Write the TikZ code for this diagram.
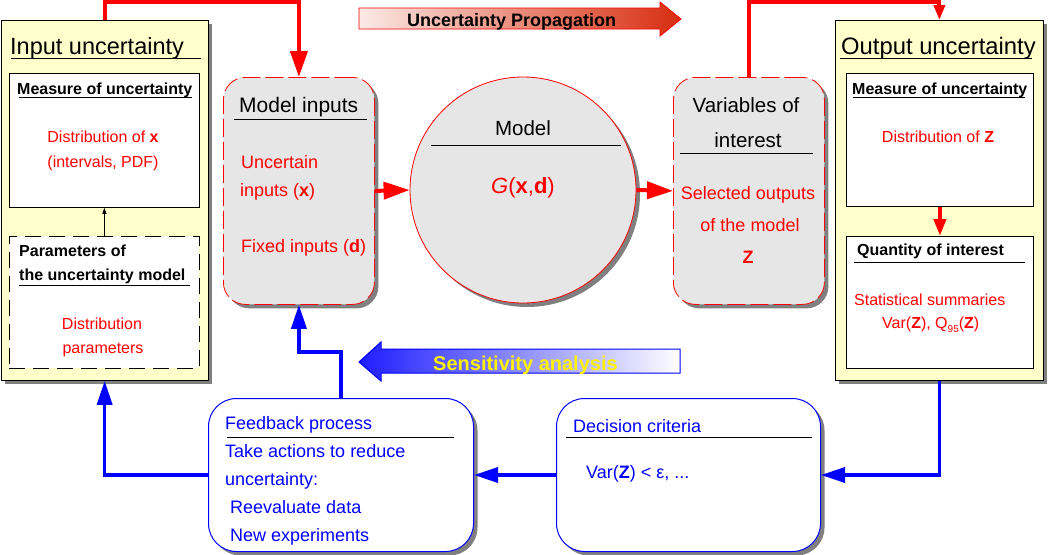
\documentclass[tikz,border=0pt]{standalone}
\usepackage{fontspec}
\setmainfont{Liberation Sans}
\usetikzlibrary{arrows.meta,shadows,calc}
\definecolor{panelyel}{HTML}{FFFFCC}
\definecolor{boxgray}{HTML}{E6E6E6}
\definecolor{shadowgray}{HTML}{808080}
\definecolor{propred}{HTML}{D72D0F}
\definecolor{propleft}{HTML}{FCEAE6}
\definecolor{sensblue}{HTML}{1E1EFF}
\newcommand{\fsz}[1]{\fontsize{#1}{#1}\selectfont}
\begin{document}
\begin{tikzpicture}[x=1pt,y=-1pt,
  shad/.style={drop shadow={shadow xshift=4pt,shadow yshift=-4pt,fill=shadowgray,opacity=1}},
  panel/.style={draw=black,fill=panelyel,line width=0.8pt,anchor=north west,inner sep=0,shad},
  innerbox/.style={draw=black,fill=white,line width=0.8pt,anchor=north west,inner sep=0},
  dashbox/.style={innerbox,dash pattern=on 16pt off 8pt},
  graybox/.style={draw=red,fill=boxgray,rounded corners=22pt,dash pattern=on 18pt off 5pt,line width=0.8pt,anchor=north west,inner sep=0,shad},
  circ/.style={circle,draw=red,fill=boxgray,line width=0.8pt,minimum size=226pt,inner sep=0,shad},
  roundblue/.style={draw=blue,fill=white,rounded corners=28pt,line width=1pt,anchor=north west,inner sep=0,shad},
  txt/.style={inner sep=0,anchor=base west},
  ctr/.style={inner sep=0,anchor=base},
  uline/.style={draw=black,line width=0.8pt},
  redarr/.style={draw=red,line width=4pt,-{Triangle[length=26pt,width=17pt]}},
  redsmall/.style={draw=red,line width=4pt,-{Triangle[length=15pt,width=11pt]}},
  redmid/.style={draw=red,line width=4pt,-{Triangle[length=17pt,width=12pt]}},
  bluearr/.style={draw=blue,line width=3.5pt,-{Triangle[length=24pt,width=15pt]}},
  blackarr/.style={draw=black,line width=0.8pt,-{Triangle[length=6pt,width=4pt]}}
]
\useasboundingbox (0,0) rectangle (1048,554);
\fill[white] (0,0) rectangle (1048,554);

% boxes
\node[panel,minimum width=207.5,minimum height=360] (inpanel) at (0.5,20) {};
\node[innerbox,minimum width=190,minimum height=134] (im) at (9,73) {};
\node[dashbox,minimum width=190,minimum height=132] (ip) at (9,236) {};
\node[graybox,minimum width=151,minimum height=227] (minp) at (223,77) {};
\node[circ] (model) at (523,190) {};
\node[graybox,minimum width=151,minimum height=227] (voi) at (673,77) {};
\node[panel,minimum width=208,minimum height=360] (outpanel) at (835,20) {};
\node[innerbox,minimum width=187,minimum height=133] (om) at (846,73) {};
\node[innerbox,minimum width=187,minimum height=132] (oq) at (846,236) {};
\node[roundblue,minimum width=265,minimum height=153] (fb) at (208,398) {};
\node[roundblue,minimum width=264,minimum height=153] (dec) at (556,398) {};

% big arrows
\shade[left color=propleft,right color=propred,draw=red,line width=0.8pt]
  (359,8) -- (660,8) -- (660,2) -- (681,19) -- (660,36) -- (660,29) -- (359,29) -- cycle;
\node[txt,font=\bfseries\fsz{18}] (tprop) at (407,26) {Uncertainty Propagation};
\shade[left color=sensblue,right color=white,draw=blue,line width=1pt]
  (359,362) -- (381,342) -- (381,349) -- (680,349) -- (680,373) -- (381,373) -- (381,381) -- cycle;
\node[txt,font=\bfseries\fsz{20},text=yellow] (tsens) at (433,370) {Sensitivity analysis};

% connectors
\coordinate (top) at (0,2);
\coordinate (sens) at (0,352);
\draw[redarr] (inpanel.north) -- (inpanel.north |- top) -| (minp.north);
\draw[redarr] (minp.east) -- (model.west);
\draw[redarr] (model.east) -- (voi.west);
\draw[redsmall] (voi.north) -- (voi.north |- top) -| (outpanel.north);
\draw[redmid] (om.south) -- (oq.north);
\draw[blackarr] (ip.north) -- (im.south);
\draw[bluearr] (outpanel.south) |- (dec.east);
\draw[bluearr] (dec.west) -- (fb.east);
\draw[bluearr] (fb.west) -| (inpanel.south);
\draw[bluearr] (fb.north) -- (fb.north |- sens) -| (minp.south);

% input panel texts
\node[txt,font=\fsz{23.5}] (tin) at (10,54) {Input uncertainty};
\draw[uline] (11,58) -- (201,58);
\node[txt,font=\bfseries\fsz{16}] (tim) at (17,94) {Measure of uncertainty};
\draw[uline] (19,97) -- (192,97);
\node[ctr,red,font=\fsz{16}] (tdx) at (103,142) {Distribution of \textbf{x}};
\node[ctr,red,font=\fsz{16}] (tpdf) at (103,167) {(intervals, PDF)};
\node[txt,font=\bfseries\fsz{16}] (tpar1) at (19,256) {Parameters of};
\node[txt,font=\bfseries\fsz{16}] (tpar2) at (19,280) {the uncertainty model};
\draw[uline] (19,285) -- (190,285);
\node[ctr,red,font=\fsz{16}] (tdp1) at (102,329) {Distribution};
\node[ctr,red,font=\fsz{16}] (tdp2) at (103,353) {parameters};

% model inputs
\node[txt,font=\fsz{21}] (tmi) at (239,112) {Model inputs};
\draw[uline] (234,119) -- (367,119);
\node[txt,red,font=\fsz{18}] (tui1) at (241,168) {Uncertain};
\node[txt,red,font=\fsz{18}] (tui2) at (240,196) {inputs (\textbf{x})};
\node[txt,red,font=\fsz{18}] (tfi) at (241,252) {Fixed inputs (\textbf{d})};

% model
\node[ctr,font=\fsz{20.5}] (tmod) at (523,135) {Model};
\draw[uline] (431,145) -- (621,145);
\node[ctr,red,font=\fsz{22}] (tg) at (523,193) {\textit{G}(\textbf{x},\textbf{d})};

% variables of interest
\node[ctr,font=\fsz{20.5}] (tv1) at (746,112) {Variables of};
\node[ctr,font=\fsz{20.5}] (tv2) at (748,147) {interest};
\draw[uline] (680,153) -- (813,153);
\node[ctr,red,font=\fsz{18}] (ts1) at (748,199) {Selected outputs};
\node[ctr,red,font=\fsz{18}] (ts2) at (750,231) {of the model};
\node[ctr,red,font=\bfseries\fsz{18}] (ts3) at (748,263) {Z};

% output panel
\node[txt,font=\fsz{23.8}] (tout) at (841,54) {Output uncertainty};
\draw[uline] (840,58) -- (1032,58);
\node[txt,font=\bfseries\fsz{16}] (tom) at (852,94) {Measure of uncertainty};
\draw[uline] (853,97) -- (1025,97);
\node[ctr,red,font=\fsz{16}] (tdz) at (938,142) {Distribution of \textbf{Z}};
\node[txt,font=\bfseries\fsz{16}] (tq) at (857,255) {Quantity of interest};
\draw[uline] (854,262) -- (1025,262);
\node[txt,red,font=\fsz{16}] (tss) at (854,305) {Statistical summaries};
\node[txt,red,font=\fsz{16}] (tvq) at (882,328) {Var(\textbf{Z}), Q\raisebox{-4pt}{\fsz{10}95}(\textbf{Z})};

% bottom boxes
\node[txt,blue,font=\fsz{18}] (tfb1) at (225,429) {Feedback process};
\draw[uline] (227,437) -- (454,437);
\node[txt,blue,font=\fsz{18}] (tfb2) at (225,457) {Take actions to reduce};
\node[txt,blue,font=\fsz{18}] (tfb3) at (225,485) {uncertainty:};
\node[txt,blue,font=\fsz{18}] (tfb4) at (230,513) {Reevaluate data};
\node[txt,blue,font=\fsz{18}] (tfb5) at (230,541) {New experiments};
\node[txt,blue,font=\fsz{18}] (tdc1) at (573,432) {Decision criteria};
\draw[uline] (566,437) -- (812,437);
\node[txt,blue,font=\fsz{18}] (tdc2) at (586,478) {Var(\textbf{Z}) < ε, ...};
\end{tikzpicture}
\end{document}
